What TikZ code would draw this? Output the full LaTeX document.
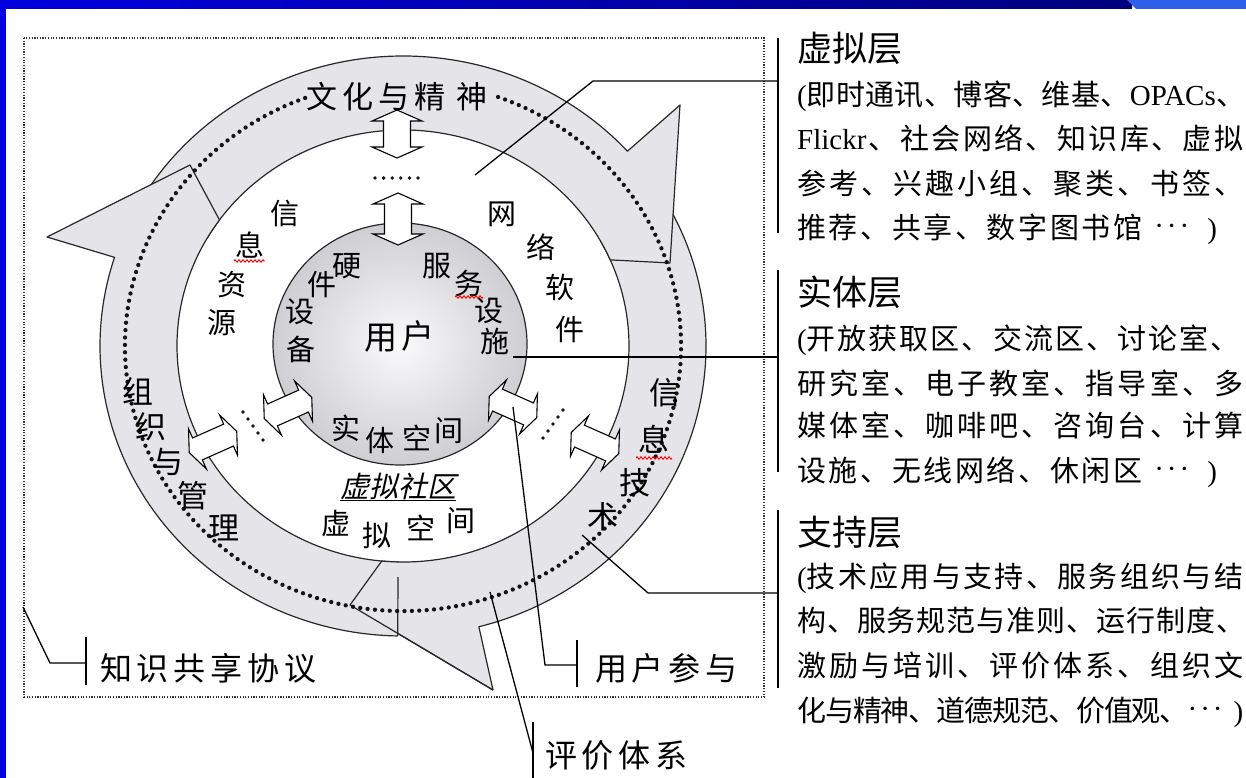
\documentclass[tikz,border=0pt]{standalone}
\usepackage{fontspec}
\newfontfamily\cjk{Noto Sans CJK SC}
\newfontfamily\cjkb[LetterSpace=9]{Noto Sans CJK SC}
\newfontfamily\cjkw[LetterSpace=15]{Noto Sans CJK SC}
\newfontfamily\cjki[FakeSlant=0.22]{Noto Sans CJK SC}
\newfontfamily\latf{Liberation Serif}
\usetikzlibrary{decorations.pathmorphing}
\definecolor{ringfill}{RGB}{229,229,233}
\definecolor{ringdark}{RGB}{40,40,40}
\definecolor{ballin}{RGB}{250,250,251}
\definecolor{ballout}{RGB}{206,206,211}
\definecolor{bandblue}{RGB}{0,0,222}
\definecolor{banddark}{RGB}{0,0,125}
\definecolor{bandlight}{RGB}{45,95,235}
\definecolor{dotcol}{RGB}{20,20,20}
\definecolor{rectdot}{RGB}{50,50,50}
\newcommand\jline[2]{\hbox to #1pt{\spaceskip=0pt plus 1fil minus 4pt\relax #2}}
\newcommand\mdots{\raisebox{3pt}{\latf ·\hspace{3pt}·\hspace{3pt}·}}
% name, x, y, rotation, length, head width, shaft width, head length
\newcommand\dblarr[8]{%
  \coordinate (#1) at (#2,-#3);
  \begin{scope}[shift={(#1)}, rotate=#4]
    \draw[arrowbox] ({-#5/2},0) -- ({-#5/2+#8},{#6/2}) -- ({-#5/2+#8},{#7/2})
      -- ({#5/2-#8},{#7/2}) -- ({#5/2-#8},{#6/2}) -- ({#5/2},0)
      -- ({#5/2-#8},{-#6/2}) -- ({#5/2-#8},{-#7/2}) -- ({-#5/2+#8},{-#7/2})
      -- ({-#5/2+#8},{-#6/2}) -- cycle;
  \end{scope}}
\tikzset{
  lab/.style={inner sep=0pt, font=\cjk\fontsize{29}{29}\selectfont, text height=25.5pt, text depth=3.5pt},
  ringlab/.style={inner sep=0pt, font=\cjk\fontsize{31}{31}\selectfont, text height=27.3pt, text depth=3.7pt},
  biglab/.style={inner sep=0pt, font=\cjk\fontsize{33}{33}\selectfont, text height=29pt, text depth=4pt},
  body/.style={inner sep=0pt, anchor=west, font=\cjk\fontsize{29}{29}\selectfont, text height=25.5pt, text depth=3.5pt},
  bodyn/.style={body, font=\cjkb\fontsize{29}{29}\selectfont},
  title/.style={inner sep=0pt, anchor=west, font=\cjk\fontsize{35}{35}\selectfont, text height=30.8pt, text depth=4.2pt},
  bottomlab/.style={inner sep=0pt, anchor=west, font=\cjkw\fontsize{32}{32}\selectfont, text height=28.2pt, text depth=3.8pt},
  ringedge/.style={draw=ringdark, line width=1.2pt, line join=round},
  arrowbox/.style={draw=black, fill=white, line width=1.1pt, line join=miter},
  dotline/.style={draw=dotcol, line width=3.8pt, line cap=round, dash pattern=on 0pt off 8.6pt},
  ringdots/.style={draw=dotcol, line width=4.3pt, line cap=round, dash pattern=on 0pt off 7.4pt},
  rectdots/.style={draw=rectdot, line width=1.8pt, dash pattern=on 1.2pt off 1.5pt},
  leader/.style={draw=black, line width=1.3pt},
  bar/.style={draw=black, line width=2pt},
  squiggle/.style={draw=red, line width=0.9pt, decorate, decoration={zigzag, segment length=4pt, amplitude=1.3pt}},
}
\begin{document}
\begin{tikzpicture}[x=1pt,y=1pt]
\useasboundingbox (0,0) rectangle (1246,-778);
\fill[white] (0,0) rectangle (1246,-778);
\shade[left color=bandblue, right color=banddark] (0,0) rectangle (1132,-9);
\fill[bandlight] (1127,0) -- (1246,0) -- (1246,-9) -- (1136,-9) -- cycle;
\fill[bandblue] (0,0) rectangle (6,-778);

% dotted frame
\draw[rectdots] (24,-38) rectangle (764,-697);

% ring of three curved arrows
\begin{scope}[shift={(403,-346)}]
  % arrow 2 (right side, pointing to bottom)
  \path[fill=ringfill, ringedge] (29:303 and 290) arc[start angle=29, end angle=-75.5, x radius=303, y radius=290]
     -- (90,-344) -- (-53,-259) -- (-95.4:226 and 216)
     arc[start angle=-95.4, end angle=29, x radius=226, y radius=216] -- cycle;
  % arrow 1 (top, pointing right)
  \path[fill=ringfill, ringedge] (150:303 and 290) arc[start angle=150, end angle=42.2, x radius=303, y radius=290]
     -- (277,241) -- (267,83) -- (23.5:226 and 216)
     arc[start angle=23.5, end angle=150, x radius=226, y radius=216] -- cycle;
  % arrow 3 (left side, pointing up)
  \fill[ringfill] (-91:303 and 290) arc[start angle=-91, end angle=-197.8, x radius=303, y radius=290]
     -- (-356,109) -- (-213,181) -- (-215.7:226 and 216)
     arc[start angle=-215.7, end angle=-91, x radius=226, y radius=216] -- cycle;
  \draw[ringedge] (-91:303 and 290) arc[start angle=-91, end angle=-197.8, x radius=303, y radius=290]
     -- (-356,109) -- (-213,181) -- (-215.7:226 and 216)
     arc[start angle=-215.7, end angle=-91, x radius=226, y radius=216];
  \draw[ringedge] (-5,-231) -- (-91:303 and 290);
  % head edges of arrow 2 seen through
  \draw[ringedge] (90,-344) -- (-53,-259) -- (-95.4:226 and 216);
  % dotted middle line
  \draw[ringdots] (70:278 and 265) arc[start angle=70, end angle=-250, x radius=278, y radius=265];
  % user sphere
  \shade[inner color=ballin, outer color=ballout] (-3,2) ellipse[x radius=127, y radius=121];
  \draw[ringedge] (-3,2) ellipse[x radius=127, y radius=121];
\end{scope}

% double arrows
\dblarr{T1}{397}{134}{90}{48}{50}{27}{11}
\dblarr{T2}{398}{219}{90}{52}{50}{27}{11}
\dblarr{A}{213}{442}{24}{52}{44}{24}{9}
\dblarr{B}{288}{408}{24}{52}{44}{24}{9}
\dblarr{C}{513}{407}{-24}{52}{44}{24}{9}
\dblarr{D}{595}{443}{-24}{52}{44}{24}{9}
% ellipsis dots
\coordinate (d1a) at (375,-178); \coordinate (d1b) at (420,-178);
\draw[dotline] (d1a) -- (d1b);
\coordinate (d2a) at (243,-412); \coordinate (d2b) at (263,-440);
\draw[dotline] (d2a) -- (d2b);
\coordinate (d3a) at (563,-410); \coordinate (d3b) at (543,-438);
\draw[dotline] (d3a) -- (d3b);

% labels in the ring
\node[ringlab] (wh1) at (322,-97) {文};
\node[ringlab] (wh2) at (358,-97) {化};
\node[ringlab] (wh3) at (394,-97) {与};
\node[ringlab] (wh4) at (430,-97) {精};
\node[ringlab] (wh5) at (472,-97) {神};
\node[ringlab] (zz1) at (138,-392) {组};
\node[ringlab] (zz2) at (151,-427) {织};
\node[ringlab] (zz3) at (168,-462) {与};
\node[ringlab] (zz4) at (193,-496) {管};
\node[ringlab] (zz5) at (224,-528) {理};
\node[ringlab] (js1) at (665,-393) {信};
\node[ringlab] (js2) at (654,-440) {息};
\node[ringlab] (js3) at (635,-483) {技};
\node[ringlab] (js4) at (603,-517) {术};

% labels in the white area
\node[lab] (xx1) at (285,-213) {信};
\node[lab] (xx2) at (250,-245) {息};
\node[lab] (xx3) at (232,-284) {资};
\node[lab] (xx4) at (222,-322) {源};
\node[lab] (wl1) at (502,-213) {网};
\node[lab] (wl2) at (541,-247) {络};
\node[lab] (wl3) at (560,-287) {软};
\node[lab] (wl4) at (570,-329) {件};
\node[lab] (xn1) at (336,-523) {虚};
\node[lab] (xn2) at (377,-535) {拟};
\node[lab] (xn3) at (421,-528) {空};
\node[lab] (xn4) at (461,-520) {间};
\node[inner sep=0pt, font=\cjki\fontsize{29}{29}\selectfont, text height=25.5pt, text depth=3.5pt] (vsq) at (398,-486) {虚拟社区};
\draw[line width=1.2pt] (vsq.south west) -- (vsq.south east);

% labels on the sphere
\node[lab] (yj1) at (347,-265) {硬};
\node[lab] (yj2) at (322,-284) {件};
\node[lab] (yj3) at (300,-311) {设};
\node[lab] (yj4) at (301,-349) {备};
\node[lab] (fw1) at (437,-265) {服};
\node[lab] (fw2) at (469,-283) {务};
\node[lab] (fw3) at (489,-310) {设};
\node[lab] (fw4) at (495,-341) {施};
\node[biglab] (yh1) at (381,-337) {用};
\node[biglab] (yh2) at (418,-336) {户};
\node[lab] (st1) at (346,-428) {实};
\node[lab] (st2) at (380,-440) {体};
\node[lab] (st3) at (417,-438) {空};
\node[lab] (st4) at (449,-430) {间};

% spell-check squiggles
\coordinate (r1a) at (234,-261); \coordinate (r1b) at (265,-261);
\coordinate (r2a) at (455,-297); \coordinate (r2b) at (483,-297);
\coordinate (r3a) at (636,-458); \coordinate (r3b) at (672,-458);
\draw[squiggle] (r1a) -- (r1b);
\draw[squiggle] (r2a) -- (r2b);
\draw[squiggle] (r3a) -- (r3b);

% right column
\node[title] (t1) at (797,-48) {虚拟层};
\node[body] (g1a) at (797,-95) {\jline{448}{{\latf(}即 时 通 讯 、 博 客 、 维 基 、 {\latf OPACs} 、}};
\node[body] (g1b) at (797,-139) {\jline{446}{{\latf Flickr} 、 社 会 网 络 、 知 识 库 、 虚 拟}};
\node[body] (g1c) at (797,-183) {\jline{446}{参 考 、 兴 趣 小 组 、 聚 类 、 书 签 、}};
\node[bodyn] (g1d) at (797,-227) {推荐、共享、数字图书馆\hspace{12pt}\mdots\hspace{18pt}{\latf )}};
\node[title] (t2) at (797,-292) {实体层};
\node[body] (g2a) at (797,-338) {\jline{442}{{\latf(}开 放 获 取 区 、 交 流 区 、 讨 论 室 、}};
\node[body] (g2b) at (797,-383) {\jline{446}{研 究 室 、 电 子 教 室 、 指 导 室 、 多}};
\node[body] (g2c) at (797,-425) {\jline{446}{媒 体 室 、 咖 啡 吧 、 咨 询 台 、 计 算}};
\node[bodyn] (g2d) at (797,-470) {设施、无线网络、休闲区\hspace{12pt}\mdots\hspace{18pt}{\latf )}};
\node[title] (t3) at (797,-532) {支持层};
\node[body] (g3a) at (797,-576) {\jline{446}{{\latf(}技 术 应 用 与 支 持 、 服 务 组 织 与 结}};
\node[body] (g3b) at (797,-620) {\jline{448}{构 、 服 务 规 范 与 准 则 、 运 行 制 度 、}};
\node[body] (g3c) at (797,-665) {\jline{446}{激 励 与 培 训 、 评 价 体 系 、 组 织 文}};
\node[body] (g3d) at (797,-710) {\jline{446}{化 与 精 神 、 道 德 规 范 、 价 值 观 、 \mdots\hspace{12pt} {\latf )}}};

% bottom labels
\node[bottomlab] (kn) at (100,-668) {知识共享协议};
\node[bottomlab] (yc) at (595,-668) {用户参与};
\node[bottomlab] (pj) at (545,-755) {评价体系};

% leaders and brackets
\coordinate (v0) at (475,-175); \coordinate (v1) at (593,-81); \coordinate (v2) at (778,-81);
\draw[leader] (v0) -- (v1) -- (v2);
\coordinate (s0) at (513,-357); \coordinate (s1) at (778,-357);
\draw[leader] (s0) -- (s1);
\coordinate (z0) at (582,-535); \coordinate (z1) at (648,-593); \coordinate (z2) at (778,-593);
\draw[leader] (z0) -- (z1) -- (z2);
\coordinate (b1t) at (778,-38); \coordinate (b1b) at (778,-233);
\coordinate (b2t) at (778,-270); \coordinate (b2b) at (778,-472);
\coordinate (b3t) at (778,-510); \coordinate (b3b) at (778,-688);
\draw[bar] (b1t) -- (b1b);
\draw[bar] (b2t) -- (b2b);
\draw[bar] (b3t) -- (b3b);

\coordinate (k0) at (23,-607); \coordinate (k1) at (50,-663); \coordinate (k2) at (86,-663);
\draw[leader] (k0) -- (k1) -- (k2);
\coordinate (k3) at (86,-637); \coordinate (k4) at (86,-685);
\draw[bar] (k3) -- (k4);

\coordinate (u1) at (545,-665); \coordinate (u2) at (577,-665);
\draw[leader] (C) -- (u1) -- (u2);
\coordinate (u3) at (577,-640); \coordinate (u4) at (577,-687);
\draw[bar] (u3) -- (u4);

\coordinate (p0) at (490,-592); \coordinate (p1) at (533,-753);
\draw[leader] (p0) -- (p1);
\coordinate (p2) at (533,-722); \coordinate (p3) at (533,-778);
\draw[bar] (p2) -- (p3);
\end{tikzpicture}
\end{document}
